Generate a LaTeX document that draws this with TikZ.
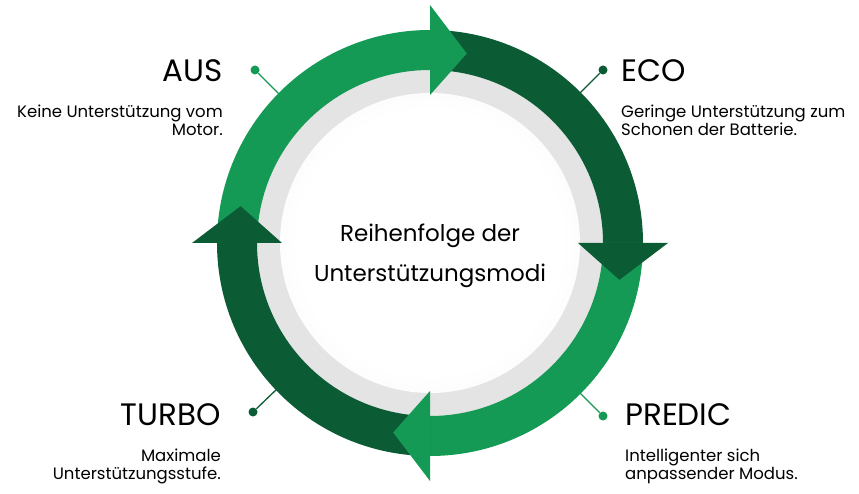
\documentclass[tikz,border=0pt]{standalone}
\usepackage{fontspec}
\setmainfont{Poppins}
\definecolor{lg}{HTML}{149A55}
\definecolor{dg}{HTML}{0B5C35}
\definecolor{gr}{HTML}{E4E4E4}
\begin{document}
\begin{tikzpicture}[x=1pt,y=1pt,
  ttl/.style={font=\fontsize{31}{34}\selectfont,inner sep=0pt},
  dsc/.style={font=\fontsize{16.5}{18}\selectfont,inner sep=0pt},
  pin/.style={line width=1.3pt}]
\useasboundingbox (0,0) rectangle (859,493);
\begin{scope}[shift={(430,250)}]
 \fill[gr] (0,0) circle (175);
 \foreach \r/\c in {150/92,144/95,140/98}{\fill[white!\c!gr] (0,0) circle (\r);}
 \fill[white] (0,0) circle (136);
 % bodies
 \fill[lg] (180:213) arc (180:90:213) -- (90:173) arc (90:180:173) -- cycle;
 \fill[dg] (90:213) arc (90:0:213) -- (0:173) arc (0:90:173) -- cycle;
 \fill[lg] (0:213) arc (0:-90:213) -- (-90:173) arc (-90:0:173) -- cycle;
 \fill[dg] (-90:213) arc (-90:-180:213) -- (-180:173) arc (-180:-90:173) -- cycle;
 % heads
 \fill[lg] (90:148) -- (90:238) -- (79:193) -- cycle;
 \fill[dg] (0:148) -- (0:238) -- (-11:193) -- cycle;
 \fill[lg] (-90:148) -- (-90:238) -- (-101:193) -- cycle;
 \fill[dg] (180:148) -- (180:238) -- (169:193) -- cycle;
 \node[font=\fontsize{23}{26}\selectfont] (c1) at (0,7) {Reihenfolge der};
 \node[font=\fontsize{23}{26}\selectfont] (c2) at (0,-33) {Unterstützungsmodi};
\end{scope}
% pins
\node[circle,fill=lg,inner sep=0pt,minimum size=9pt] (p1) at (255,423) {};
\coordinate (q1) at (280,398);
\draw[pin,lg] (p1) -- (q1);
\node[circle,fill=dg,inner sep=0pt,minimum size=9pt] (p2) at (603,423) {};
\coordinate (q2) at (580,400);
\draw[pin,dg] (p2) -- (q2);
\node[circle,fill=lg,inner sep=0pt,minimum size=9pt] (p3) at (603,77) {};
\coordinate (q3) at (580,100);
\draw[pin,lg] (p3) -- (q3);
\node[circle,fill=dg,inner sep=0pt,minimum size=9pt] (p4) at (253,81) {};
\coordinate (q4) at (277,104);
\draw[pin,dg] (p4) -- (q4);
% labels
\node[ttl,anchor=base east] (aus) at (223,411) {AUS};
\node[dsc,anchor=north east,align=right] (ausd) at (223,388) {Keine Unterstützung vom\\Motor.};
\node[ttl,anchor=base west] (eco) at (621,411) {ECO};
\node[dsc,anchor=north west,align=left] (ecod) at (621,388) {Geringe Unterstützung zum\\Schonen der Batterie.};
\node[ttl,anchor=base west] (pre) at (625,68) {PREDIC};
\node[dsc,anchor=north west,align=left] (pred) at (625,44) {Intelligenter sich\\anpassender Modus.};
\node[ttl,anchor=base east] (tur) at (221,68) {TURBO};
\node[dsc,anchor=north east,align=right] (turd) at (221,44) {Maximale\\Unterstützungsstufe.};
\end{tikzpicture}
\end{document}
